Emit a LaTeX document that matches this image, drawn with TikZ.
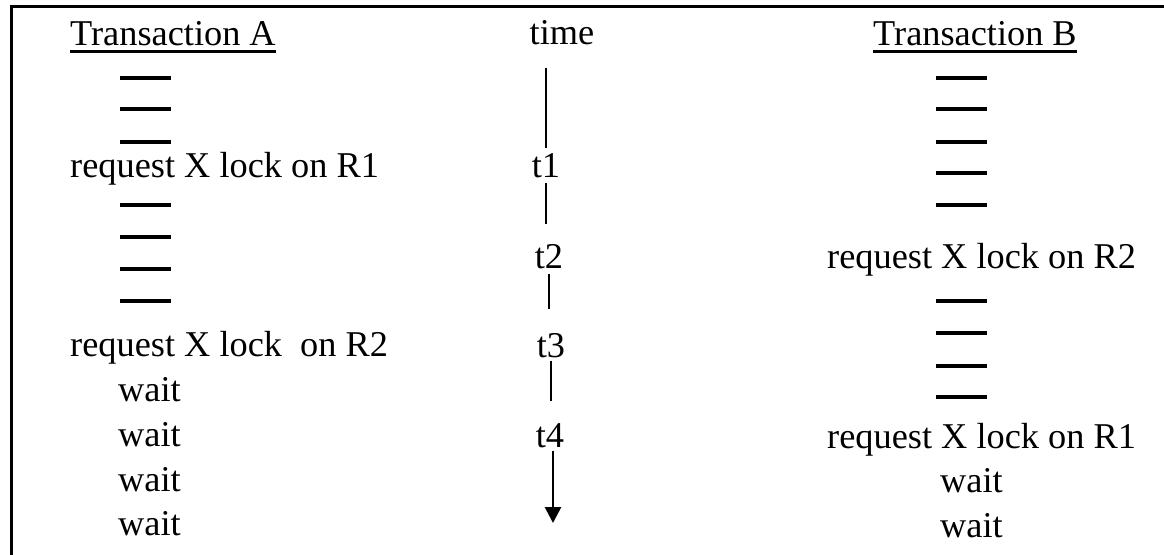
\documentclass[tikz,border=0pt]{standalone}
\usepackage{fontspec}
\setmainfont{Liberation Serif}
\usetikzlibrary{arrows.meta}

\begin{document}
\begin{tikzpicture}[x=0.03cm, y=-0.03cm,
    txt/.style={anchor=base west, inner sep=0pt, font=\fontsize{31}{37}\selectfont},
    tick/.style={anchor=base, inner sep=0pt, font=\fontsize{31}{37}\selectfont},
    blank/.style={line width=2.6pt},
    axis/.style={line width=2.3pt}]
   \useasboundingbox (0,0) rectangle (1164,555);
   \draw[line width=2.6pt] (11.5,555) -- (11.5,6.5) -- (1164,6.5);

   % column heads
   \node[txt] (hdA) at (70,45) {Transaction A};
   \node[tick] (time) at (562,44) {time};
   \node[txt] (hdB) at (873,45) {Transaction B};
   \draw[line width=1.8pt] ([yshift=-5.5pt]hdA.base west) -- ([yshift=-5.5pt]hdA.base east);
   \draw[line width=1.8pt] ([yshift=-5.5pt]hdB.base west) -- ([yshift=-5.5pt]hdB.base east);

   % transaction A
   \foreach \y in {78,109,142,205,237,269,301}
      \draw[blank] (120,\y) -- (171,\y);
   \node[txt] (reqA1) at (70,177) {request X lock on R1};
   \node[txt] (reqA2) at (70,356) {request X lock\ \ on R2};
   \node[txt] (waitA1) at (118,401) {wait};
   \node[txt] (waitA2) at (118,446) {wait};
   \node[txt] (waitA3) at (118,491) {wait};
   \node[txt] (waitA4) at (118,535) {wait};

   % time line, one straight piece between each pair of ticks
   \node[tick] (t1) at (546,177) {t1};
   \node[tick] (t2) at (549,268) {t2};
   \node[tick] (t3) at (551,357) {t3};
   \node[tick] (t4) at (550,447) {t4};
   \coordinate (tend) at (553,523);
   \draw[axis, shorten <=19.6pt, shorten >=4.3pt] (t1 |- time.south) -- (t1.north);
   \draw[axis, shorten <=5pt, shorten >=17pt] (t1.south) -- (t1.south |- t2.north);
   \draw[axis, shorten <=5pt, shorten >=20pt] (t2.south) -- (t2.south |- t3.north);
   \draw[axis, shorten <=2.6pt, shorten >=19pt] (t3.south) -- (t3.south |- t4.north);
   \draw[axis, shorten <=2.6pt, -{Triangle[width=13.5pt,length=13.5pt]}] (t4.south -| tend) -- (tend);

   % transaction B
   \foreach \y in {78,109,142,173,205,301,333,366,397}
      \draw[blank] (936,\y) -- (987,\y);
   \node[txt] (reqB2) at (827,268) {request X lock on R2};
   \node[txt] (reqB1) at (827,448) {request X lock on R1};
   \node[txt] (waitB1) at (940,492) {wait};
   \node[txt] (waitB2) at (940,537) {wait};
\end{tikzpicture}
\end{document}
